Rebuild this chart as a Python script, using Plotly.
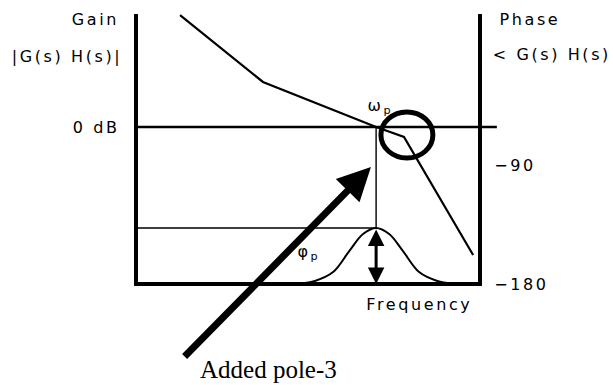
import plotly.graph_objects as go

# ---- schematic data (x: frequency units, 0 = left axis, 100 = right axis;
#      y: phase-scale units in degrees) ----
axis_top = 24.2
phase_ticks = [-90, -180]
phase_tick_text = ["\u221290", "\u2212180"]

gain_freq = [12.8, 36.9, 69.8, 77.9, 98.0]
gain_level = [23.4, -27.2, -61.3, -68.8, -158.1]

zero_db_level = -61.3
zero_db_end = 104.9
omega_p = 69.8
phase_peak = -137.6

bump_freq = [47.7, 52.0, 57.3, 62.2, 66.0, 69.8, 73.6, 77.4, 82.3, 87.6, 91.9]
bump_phase = [-179.6, -177.7, -171.0, -154.3, -142.2, -137.6, -142.2, -154.3, -171.0, -177.7, -179.6]

circle_x = [71.2, 86.3]
circle_y = [-84.7, -49.9]

pole_arrow_tip = (68.3, -91.5)
pole_arrow_tail = (13.7, -236.0)

# label texts and their (centre) positions in the same units
label_text = ["Gain", "|G(s) H(s)|", "0 dB", "Phase", "< G(s) H(s)", "Frequency",
              "\u03c9<sub>p</sub>", "\u03c6<sub>p</sub>"]
label_x = [-11.77, -20.06, -11.63, 114.39, 121.0, 82.27, 70.93, 50.29]
label_y = [19.67, -7.56, -61.3, 20.42, -6.05, -195.13, -45.38, -155.8]

caption = "Added pole-3"
caption_pos = (38.66, -245.0)

XR = [-39.535, 138.663]
YR = [-256.387, 34.79]

SANS = "DejaVu Sans"
fig = go.Figure()

def line(x, y, w, shape="linear"):
    fig.add_trace(go.Scatter(x=x, y=y, mode="lines",
                             line=dict(color="black", width=w, shape=shape),
                             hoverinfo="skip", showlegend=False))

# frame: left axis, bottom, right axis
line([0, 0, 100, 100], [axis_top, -180, -180, axis_top], 4)
# 0 dB line
line([0, zero_db_end], [zero_db_level, zero_db_level], 2.5)
# gain curve
line(gain_freq, gain_level, 2.2)
# horizontal at phase peak + vertical at omega_p
line([0, omega_p, omega_p], [phase_peak, phase_peak, zero_db_level], 1.4)
# phase bump
line(bump_freq, bump_phase, 2, "spline")

# circle
fig.add_shape(type="circle", xref="x", yref="y", x0=circle_x[0], x1=circle_x[1],
              y0=circle_y[0], y1=circle_y[1], line=dict(color="black", width=5))

# double arrow for phase margin
fig.add_annotation(x=omega_p, y=-180, ax=omega_p, ay=phase_peak, xref="x", yref="y",
                   axref="x", ayref="y", text="", showarrow=True, arrowhead=2,
                   arrowside="end+start", arrowwidth=3, arrowsize=1.1,
                   arrowcolor="black", standoff=0, startstandoff=0)
# thick pointer arrow
fig.add_annotation(x=pole_arrow_tip[0], y=pole_arrow_tip[1], ax=pole_arrow_tail[0],
                   ay=pole_arrow_tail[1], xref="x", yref="y", axref="x", ayref="y",
                   text="", showarrow=True, arrowhead=2, arrowwidth=7, arrowsize=0.95,
                   arrowcolor="black", standoff=0)

f16 = dict(family=SANS, size=16, color="black")
for t, x, y in zip(label_text, label_x, label_y):
    fig.add_annotation(x=x, y=y, xref="x", yref="y", text=t, showarrow=False,
                       xanchor="center", yanchor="middle", font=f16)

fig.add_annotation(x=caption_pos[0], y=caption_pos[1], xref="x", yref="y", text=caption,
                   showarrow=False, xanchor="center", yanchor="middle",
                   font=dict(family="Liberation Serif", size=25, color="black"))

fig.update_layout(
    width=613, height=385, margin=dict(l=0, r=0, t=0, b=0),
    paper_bgcolor="white", plot_bgcolor="white",
    xaxis=dict(range=XR, visible=False, fixedrange=True),
    yaxis=dict(range=YR, side="right", anchor="free", position=480 / 613,
               showgrid=False, zeroline=False, showline=False,
               tickvals=phase_ticks, ticktext=phase_tick_text,
               ticks="outside", ticklen=10, tickcolor="rgba(0,0,0,0)",
               tickfont=f16, automargin=False, fixedrange=True),
)

post = """
document.body.style.margin = '0';
var gd = document.getElementById('{plot_id}');
function spaceText() {
  gd.querySelectorAll('text.annotation-text, g.ytick text').forEach(function (t) {
    var ff = t.style.fontFamily || '';
    if (ff.indexOf('Serif') < 0) { t.style.letterSpacing = '2.6px'; }
  });
}
spaceText();
gd.on('plotly_afterplot', spaceText);
"""
fig.write_html("out.html", post_script=post, config={"displayModeBar": False})
